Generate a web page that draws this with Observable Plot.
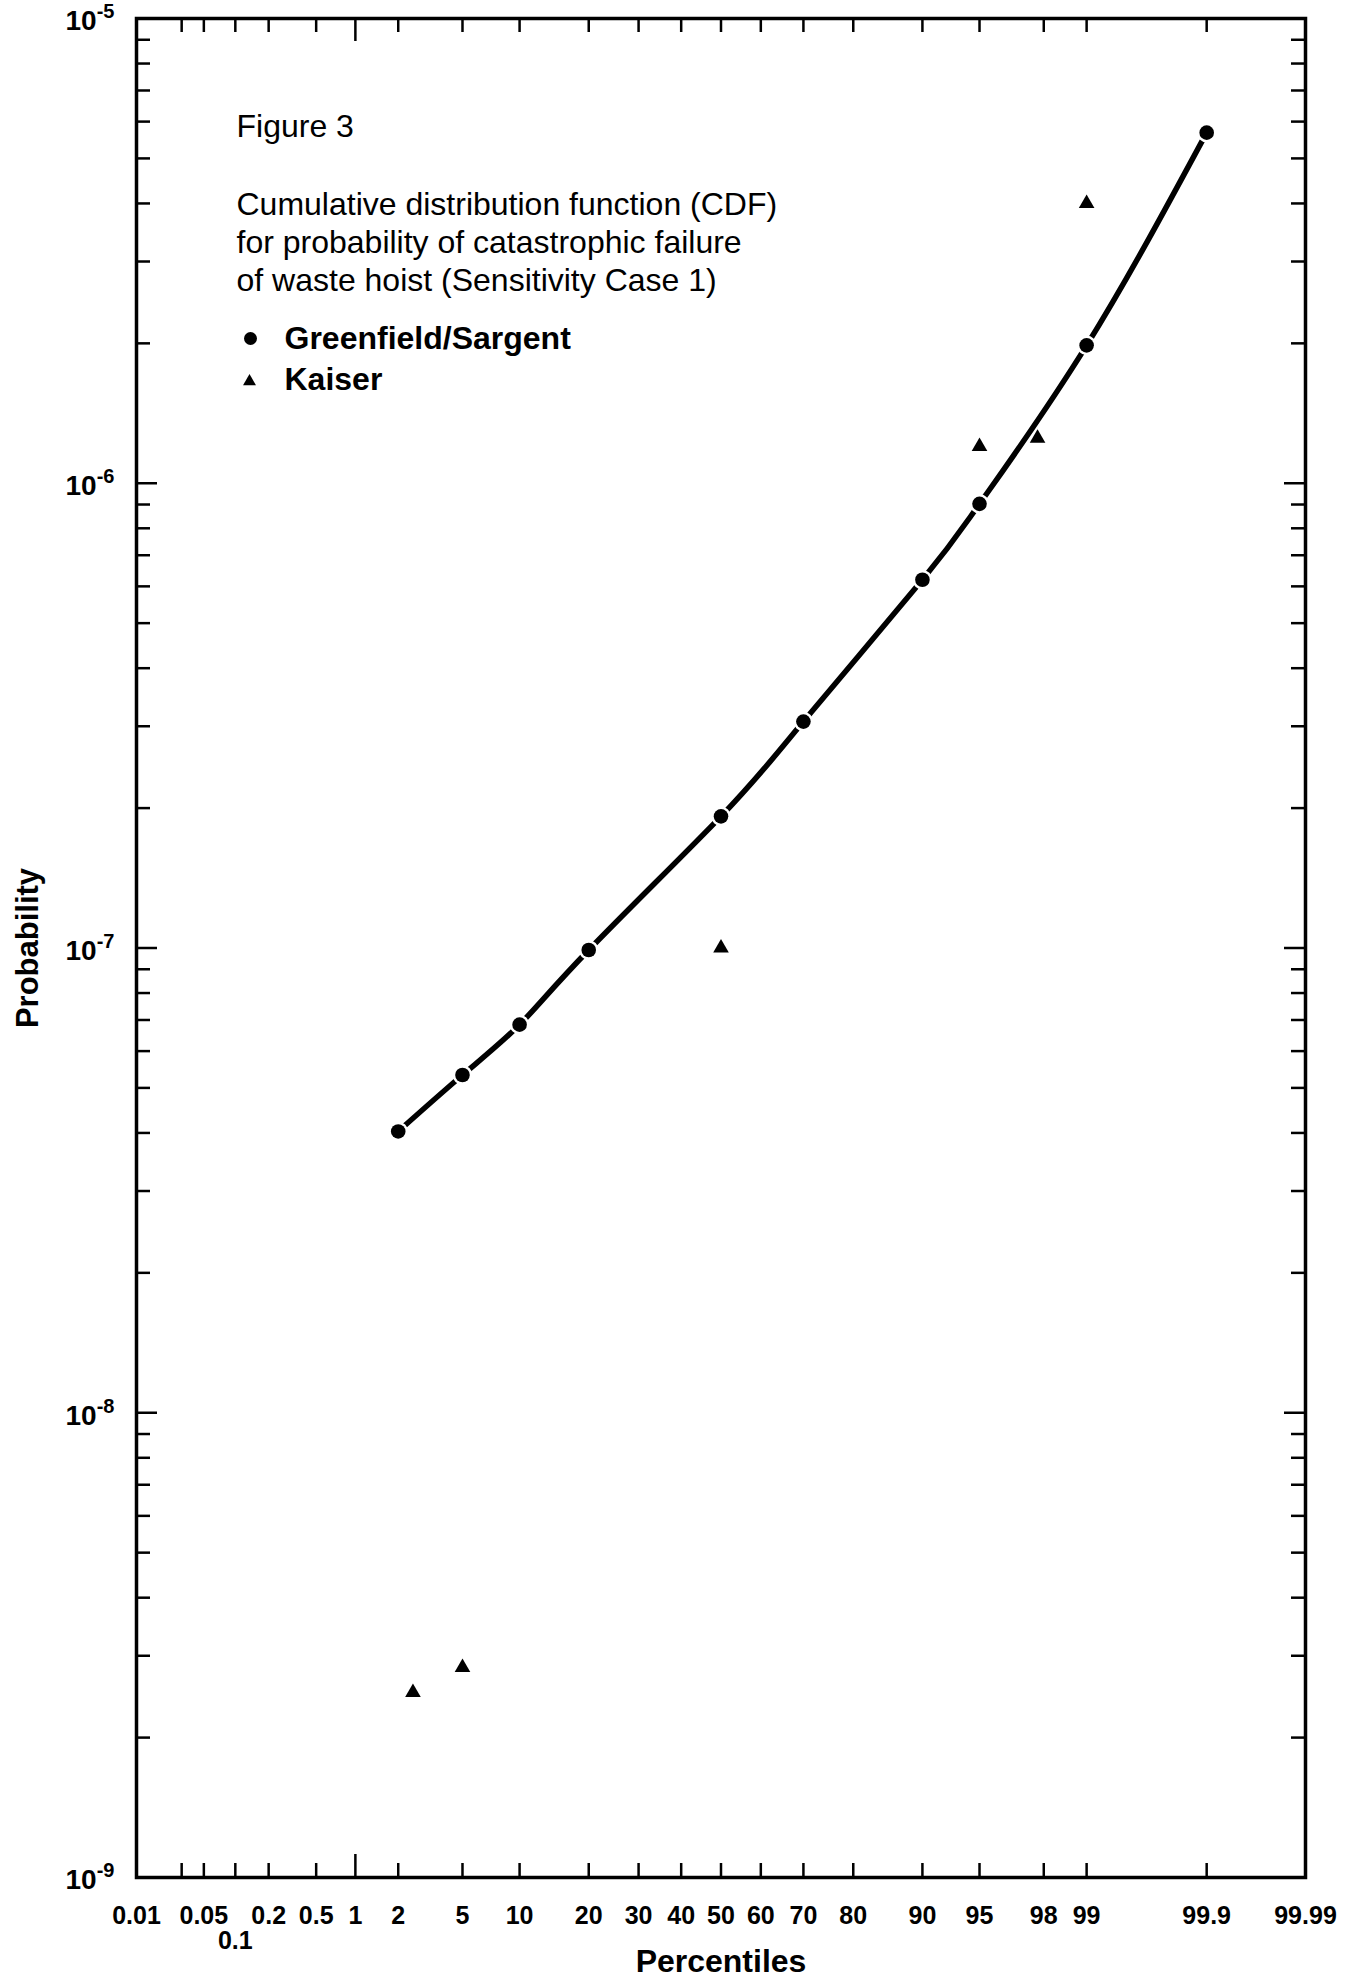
<!DOCTYPE html>
<html>
<head>
<meta charset="utf-8">
<script src="https://cdn.jsdelivr.net/npm/d3@7"></script>
<script src="https://cdn.jsdelivr.net/npm/@observablehq/plot@0.6"></script>
<style>
  html, body { margin: 0; padding: 0; background: #fff; }
</style>
</head>
<body>
<div id="chart"></div>
<script>
// Greenfield/Sargent CDF points (percentile, probability of failure)
const gsPercentiles = [2, 5, 10, 20, 50, 70, 90, 95, 99, 99.9];
const gsValues = [4.03e-8, 5.33e-8, 6.84e-8, 9.9e-8, 1.92e-7, 3.07e-7, 6.2e-7, 9.03e-7, 1.98e-6, 5.68e-6];

// Kaiser CDF points
const kaiserPercentiles = [2.5, 5, 50, 95, 97.8, 99];
const kaiserValues = [2.5e-9, 2.83e-9, 1.0e-7, 1.2e-6, 1.25e-6, 4.0e-6];

// Percentile (normal probability) axis
const xShortTickPercentiles = [0.03, 0.05, 0.1, 0.2, 0.5, 2, 5, 10, 20, 30, 40, 50, 60, 70, 80, 90, 95, 98, 99, 99.9];
const xLongTickPercentiles = [1];
const xLabelPercentiles = [0.01, 0.05, 0.2, 0.5, 1, 2, 5, 10, 20, 30, 40, 50, 60, 70, 80, 90, 95, 98, 99, 99.9, 99.99];
const xLabelTexts = ["0.01", "0.05", "0.2", "0.5", "1", "2", "5", "10", "20", "30", "40", "50", "60", "70", "80", "90", "95", "98", "99", "99.9", "99.99"];
const xLowerLabelPercentiles = [0.1];
const xLowerLabelTexts = ["0.1"];

// Probability (log) axis
const yDecades = [1e-9, 1e-8, 1e-7, 1e-6, 1e-5];
const yDecadeExponents = ["-9", "-8", "-7", "-6", "-5"];
const yMinorMultipliers = [2, 3, 4, 5, 6, 7, 8, 9];

// Text
const figureLabel = "Figure 3";
const descriptionLines = [
  "Cumulative distribution function (CDF)",
  "for probability of catastrophic failure",
  "of waste hoist (Sensitivity Case 1)"
];
const seriesNames = ["Greenfield/Sargent", "Kaiser"];
const xTitle = "Percentiles";
const yTitle = "Probability";

// Inverse of the standard normal CDF (Acklam's rational approximation)
function probit(p) {
  const a = [-3.969683028665376e+01, 2.209460984245205e+02, -2.759285104469687e+02, 1.383577518672690e+02, -3.066479806614716e+01, 2.506628277459239e+00];
  const b = [-5.447609879822406e+01, 1.615858368580409e+02, -1.556989798598866e+02, 6.680131188771972e+01, -1.328068155288572e+01];
  const c = [-7.784894002430293e-03, -3.223964580411365e-01, -2.400758277161838e+00, -2.549732539343734e+00, 4.374664141464968e+00, 2.938163982698783e+00];
  const d = [7.784695709041462e-03, 3.224671290700398e-01, 2.445134137142996e+00, 3.754408661907416e+00];
  const pl = 0.02425, ph = 1 - pl;
  let q, r;
  if (p < pl) {
    q = Math.sqrt(-2 * Math.log(p));
    return (((((c[0]*q+c[1])*q+c[2])*q+c[3])*q+c[4])*q+c[5]) / ((((d[0]*q+d[1])*q+d[2])*q+d[3])*q+1);
  }
  if (p <= ph) {
    q = p - 0.5; r = q * q;
    return (((((a[0]*r+a[1])*r+a[2])*r+a[3])*r+a[4])*r+a[5])*q / (((((b[0]*r+b[1])*r+b[2])*r+b[3])*r+b[4])*r+1);
  }
  q = Math.sqrt(-2 * Math.log(1 - p));
  return -(((((c[0]*q+c[1])*q+c[2])*q+c[3])*q+c[4])*q+c[5]) / ((((d[0]*q+d[1])*q+d[2])*q+d[3])*q+1);
}
const zOf = (pct) => probit(pct / 100);

const gsData = gsPercentiles.map((p, i) => ({p, v: gsValues[i]}));
const kaiserData = kaiserPercentiles.map((p, i) => ({p, v: kaiserValues[i]}));
const yMinorTicks = yDecades.slice(0, -1).flatMap(d => yMinorMultipliers.map(m => m * d));

const W = 1354, H = 1979;
const ML = 136, MR = 49, MT = 18, MB = 102;
const innerW = W - ML - MR, innerH = H - MT - MB;
const FONT = "'Liberation Sans', Arial, Helvetica, sans-serif";

const tickStyle = {stroke: "black", strokeWidth: 2.5};
const tickMarks = [];
for (const [list, len] of [[xShortTickPercentiles, 14], [xLongTickPercentiles, 23]]) {
  tickMarks.push(Plot.ruleX(list, {x: zOf, insetTop: innerH - len, ...tickStyle}));
  tickMarks.push(Plot.ruleX(list, {x: zOf, insetBottom: innerH - len, ...tickStyle}));
}
for (const [list, len] of [[yMinorTicks, 14], [yDecades, 21]]) {
  tickMarks.push(Plot.ruleY(list, {y: d => d, insetRight: innerW - len, ...tickStyle}));
  tickMarks.push(Plot.ruleY(list, {y: d => d, insetLeft: innerW - len, ...tickStyle}));
}

const noteText = {frameAnchor: "top-left", textAnchor: "start", lineAnchor: "middle", fontSize: 32};

const chart = Plot.plot({
  width: W,
  height: H,
  marginLeft: ML,
  marginRight: MR,
  marginTop: MT,
  marginBottom: MB,
  style: {fontFamily: FONT, background: "white", color: "black", overflow: "visible"},
  x: {type: "linear", domain: [zOf(0.01), zOf(99.99)], axis: null},
  y: {type: "log", domain: [1e-9, 1e-5], axis: null},
  marks: [
    ...tickMarks,
    Plot.frame({stroke: "black", strokeWidth: 3.5}),

    // percentile labels
    Plot.text(xLabelPercentiles, {
      x: zOf, text: (d, i) => xLabelTexts[i],
      frameAnchor: "bottom", lineAnchor: "middle", dy: 38, fontSize: 25, fontWeight: "bold"
    }),
    Plot.text(xLowerLabelPercentiles, {
      x: zOf, text: (d, i) => xLowerLabelTexts[i],
      frameAnchor: "bottom", lineAnchor: "middle", dy: 63, fontSize: 25, fontWeight: "bold"
    }),
    // decade labels (exponent turned into a superscript below)
    Plot.text(yDecades, {
      y: d => d, text: (d, i) => `10^${yDecadeExponents[i]}`,
      frameAnchor: "left", dx: -22, dy: 3, textAnchor: "end", lineAnchor: "middle",
      fontSize: 28, fontWeight: "bold"
    }),
    // axis titles
    Plot.text([xTitle], {text: d => d, frameAnchor: "bottom", lineAnchor: "middle", dy: 84, fontSize: 32, fontWeight: "bold"}),
    Plot.text([yTitle], {text: d => d, frameAnchor: "left", textAnchor: "middle", lineAnchor: "middle", dx: -108, rotate: -90, fontSize: 31, fontWeight: "bold"}),

    // fitted CDF curve and points
    Plot.line(gsData, {x: d => zOf(d.p), y: "v", curve: "natural", stroke: "black", strokeWidth: 5.5}),
    Plot.dot(gsData, {x: d => zOf(d.p), y: "v", r: 7.3, fill: "black", stroke: "white", strokeWidth: 5, paintOrder: "stroke"}),
    Plot.dot(kaiserData, {x: d => zOf(d.p), y: "v", symbol: "triangle", r: 5.8, fill: "black"}),

    // caption block inside the frame
    Plot.text([figureLabel], {...noteText, text: d => d, dx: 100, dy: 108}),
    Plot.text([descriptionLines.join("\n")], {...noteText, text: d => d, dx: 100, dy: 222, lineHeight: 1.19}),

    // legend
    Plot.dot([seriesNames[0]], {frameAnchor: "top-left", dx: 114, dy: 320, r: 6.5, fill: "black"}),
    Plot.text([seriesNames[0]], {...noteText, text: d => d, dx: 148, dy: 320, fontWeight: "bold"}),
    Plot.dot([seriesNames[1]], {frameAnchor: "top-left", dx: 113, dy: 363, r: 4.8, symbol: "triangle", fill: "black"}),
    Plot.text([seriesNames[1]], {...noteText, text: d => d, dx: 148, dy: 361, fontWeight: "bold"})
  ]
});

// Render "10^-n" as 10 with a raised exponent
const SVGNS = "http://www.w3.org/2000/svg";
chart.querySelectorAll("text").forEach(t => {
  if (!t.textContent.includes("^") || t.querySelector("tspan")) return;
  const [base, exp] = t.textContent.split("^");
  t.textContent = "";
  const b = document.createElementNS(SVGNS, "tspan");
  b.textContent = base;
  b.setAttribute("font-size", "28");
  const e = document.createElementNS(SVGNS, "tspan");
  e.textContent = exp;
  e.setAttribute("font-size", "20");
  e.setAttribute("dy", "-12");
  t.appendChild(b);
  t.appendChild(e);
});

document.getElementById("chart").appendChild(chart);
</script>
</body>
</html>
